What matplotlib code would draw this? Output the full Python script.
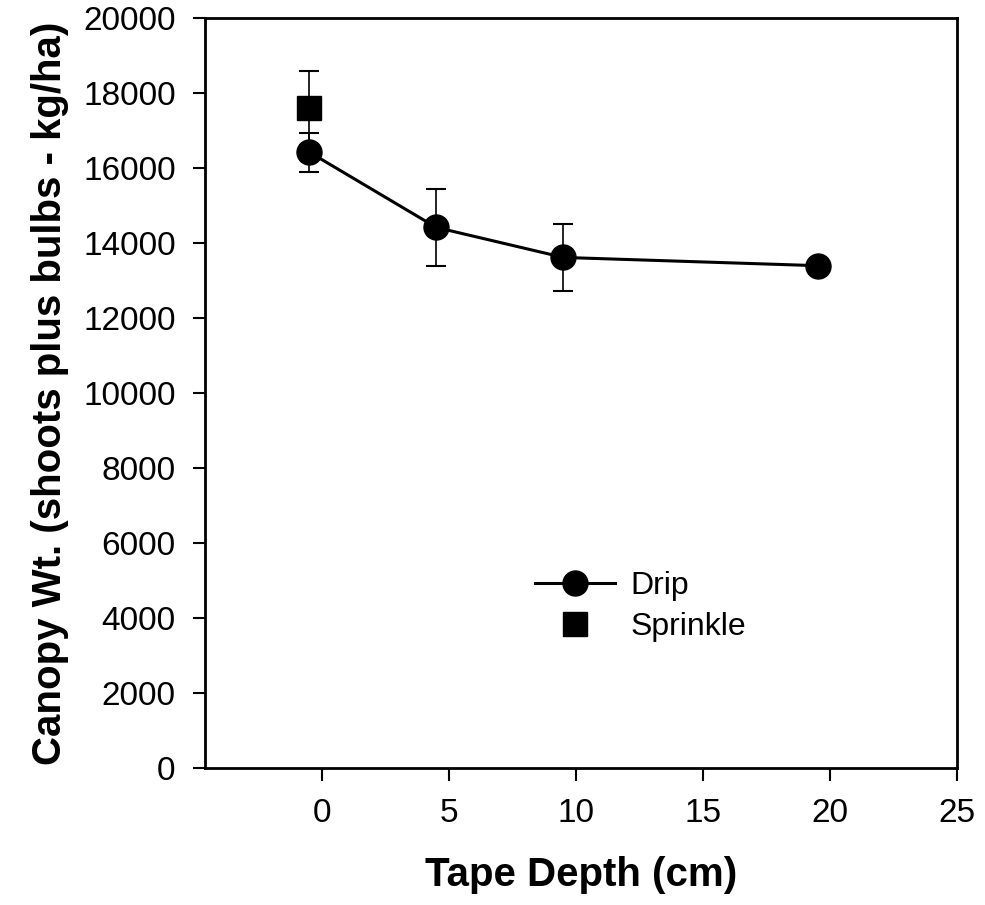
import matplotlib
matplotlib.use("Agg")
import matplotlib.pyplot as plt

plt.rcParams['font.family'] = ['Liberation Sans', 'DejaVu Sans']

# Data
drip_depth = [-0.5, 4.5, 9.5, 19.5]
drip_wt = [16430, 14420, 13620, 13400]
drip_err = [520, 1030, 900, 0]

sprinkle_depth = [-0.5]
sprinkle_wt = [17600]
sprinkle_err = [990]

x_ticks = [0, 5, 10, 15, 20, 25]
y_ticks = list(range(0, 20001, 2000))

fig = plt.figure(figsize=(9.85, 9.05), dpi=100)
ax = fig.add_axes([0.208, 0.151, 0.764, 0.829])

ax.errorbar(drip_depth, drip_wt, yerr=drip_err, fmt='none', ecolor='black',
            elinewidth=1.2, capsize=7, capthick=1.5, zorder=2)
ax.errorbar(sprinkle_depth, sprinkle_wt, yerr=sprinkle_err, fmt='none', ecolor='black',
            elinewidth=1.2, capsize=7, capthick=1.5, zorder=2)
ax.plot(drip_depth, drip_wt, '-o', color='black', lw=2.2, markersize=18,
        label='Drip', zorder=3)
ax.plot(sprinkle_depth, sprinkle_wt, 's', color='black', markersize=17,
        linestyle='none', label='Sprinkle', zorder=3)

ax.set_xlim(-4.6, 25)
ax.set_ylim(0, 20000)
ax.set_xticks(x_ticks)
ax.set_yticks(y_ticks)
ax.tick_params(axis='both', direction='out', length=9, width=1.5, labelsize=24)
ax.tick_params(axis='x', pad=12)
ax.tick_params(axis='y', pad=12)
for s in ax.spines.values():
    s.set_linewidth(2.0)

ax.set_xlabel('Tape Depth (cm)', fontsize=29, fontweight='bold', labelpad=20)
ax.set_ylabel('Canopy Wt. (shoots plus bulbs - kg/ha)', fontsize=29,
              fontweight='bold', labelpad=10)

leg = ax.legend(loc='center left', bbox_to_anchor=(0.40, 0.216), frameon=False,
                fontsize=23, handlelength=2.5, handletextpad=0.5,
                labelspacing=0.35, numpoints=1)

fig.savefig('out.png', dpi=100)
